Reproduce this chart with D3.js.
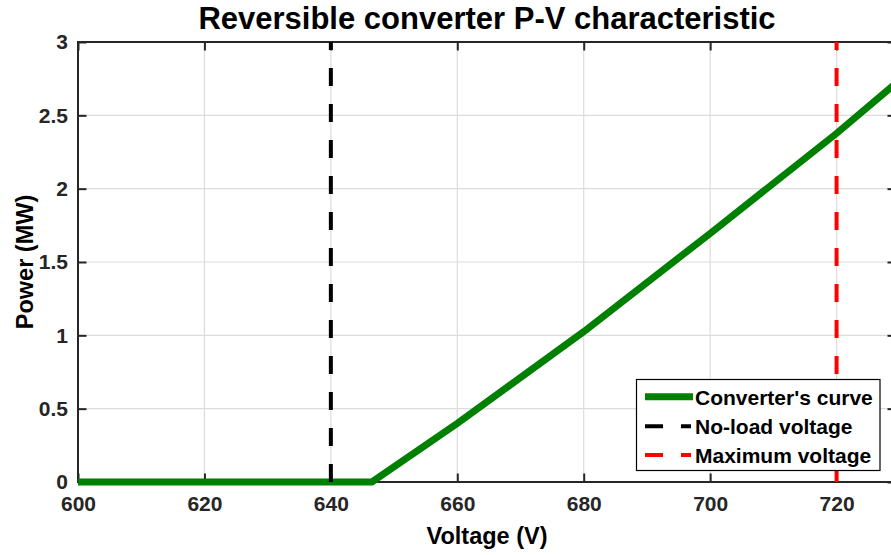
<!DOCTYPE html>
<html>
<head>
<meta charset="utf-8">
<script src="https://cdn.jsdelivr.net/npm/d3@7"></script>
<style>
  html, body { margin: 0; padding: 0; background: #fff; }
  svg { display: block; font-family: "Liberation Sans", Arial, Helvetica, sans-serif; font-weight: bold; }
</style>
</head>
<body>
<svg id="chart" width="891" height="555"></svg>
<script>
// Converter P-V curve: voltage (V) and power (MW)
const voltage = [600, 646.5, 660, 680, 700, 720, 729.4];
const power   = [0,   0,     0.40, 1.025, 1.695, 2.377, 2.72];

// Reference voltages
const noLoadVoltage = 640;
const maxVoltage = 720;

const xTicks = [600, 620, 640, 660, 680, 700, 720];
const yTicks = [0, 0.5, 1, 1.5, 2, 2.5, 3];

const legendLabels = ["Converter's curve", "No-load voltage", "Maximum voltage"];
const legendColors = ["#008000", "#000000", "#ff0000"];

const svg = d3.select("#chart");
const plotL = 78, plotR = 896, plotT = 42, plotB = 482;
const axisColor = "#262626";

const x = d3.scaleLinear().domain([600, 729.4]).range([plotL, plotR]);
const y = d3.scaleLinear().domain([0, 3]).range([plotB, plotT]);

// grid
const grid = svg.append("g").attr("stroke", "#dcdcdc").attr("stroke-width", 1.2);
grid.selectAll(".vg").data(xTicks.slice(1)).join("line")
  .attr("x1", d => x(d)).attr("x2", d => x(d)).attr("y1", plotT).attr("y2", plotB);
grid.selectAll(".hg").data(yTicks.slice(1, -1)).join("line")
  .attr("x1", plotL).attr("x2", plotR).attr("y1", d => y(d)).attr("y2", d => y(d));

// axes box with inward ticks on all four sides
const tickLen = 8.5;
const bottomAxis = d3.axisBottom(x).tickValues(xTicks).tickSize(-tickLen).tickPadding(14).tickFormat(d3.format("d"));
const topAxis = d3.axisTop(x).tickValues(xTicks).tickSize(-tickLen).tickFormat("");
const leftAxis = d3.axisLeft(y).tickValues(yTicks).tickSize(-tickLen).tickPadding(10).tickFormat(d => d3.format("~g")(d));
const rightAxis = d3.axisRight(y).tickValues(yTicks).tickSize(-tickLen).tickFormat("");

function styleAxis(g) {
  g.select(".domain").remove();
  g.selectAll("line").attr("stroke", axisColor).attr("stroke-width", 2);
  g.selectAll("text").attr("fill", axisColor).attr("font-size", 21).attr("font-weight", "bold")
    .attr("font-family", "'Liberation Sans', Arial, sans-serif");
}

svg.append("g").attr("transform", `translate(0,${plotB})`).call(bottomAxis).call(styleAxis);
svg.append("g").attr("transform", `translate(0,${plotT})`).call(topAxis).call(styleAxis);
svg.append("g").attr("transform", `translate(${plotL},0)`).call(leftAxis).call(styleAxis);
svg.append("g").attr("transform", `translate(${plotR},0)`).call(rightAxis).call(styleAxis);

svg.append("rect").attr("x", plotL).attr("y", plotT).attr("width", plotR - plotL).attr("height", plotB - plotT)
  .attr("fill", "none").attr("stroke", axisColor).attr("stroke-width", 2);

// plot area clip
svg.append("clipPath").attr("id", "plotClip").append("rect")
  .attr("x", plotL).attr("y", plotT - 5).attr("width", plotR - plotL).attr("height", plotB - plotT + 10);

const plot = svg.append("g").attr("clip-path", "url(#plotClip)");

// curve
const line = d3.line().x((d, i) => x(voltage[i])).y(d => y(d));
plot.append("path").datum(power).attr("d", line)
  .attr("fill", "none").attr("stroke", "#008000").attr("stroke-width", 7)
  .attr("stroke-linejoin", "miter");

// reference voltage markers
[[noLoadVoltage, "#000000"], [maxVoltage, "#ff0000"]].forEach(([v, c]) => {
  plot.append("line")
    .attr("x1", x(v)).attr("x2", x(v)).attr("y1", y(0)).attr("y2", y(3))
    .attr("stroke", c).attr("stroke-width", 4).attr("stroke-dasharray", "18,18");
});

// title and axis labels
svg.append("text").attr("x", (plotL + plotR) / 2).attr("y", 29).attr("text-anchor", "middle")
  .attr("font-size", 31).attr("fill", "#000").text("Reversible converter P-V characteristic");
svg.append("text").attr("x", (plotL + plotR) / 2).attr("y", 544).attr("text-anchor", "middle")
  .attr("font-size", 23.5).attr("fill", "#000").text("Voltage (V)");
svg.append("text").attr("transform", `translate(33,${(plotT + plotB) / 2}) rotate(-90)`).attr("text-anchor", "middle")
  .attr("font-size", 23.5).attr("fill", "#000").text("Power (MW)");

// legend
const lg = svg.append("g");
lg.append("rect").attr("x", 636.5).attr("y", 379.5).attr("width", 243.5).attr("height", 91)
  .attr("fill", "#fff").attr("stroke", "#000").attr("stroke-width", 1.2);
const rowY = [396.7, 426.2, 455];
legendLabels.forEach((lab, i) => {
  lg.append("line").attr("x1", 645).attr("x2", i === 0 ? 693 : 691)
    .attr("y1", rowY[i]).attr("y2", rowY[i])
    .attr("stroke", legendColors[i]).attr("stroke-width", i === 0 ? 7 : 4)
    .attr("stroke-dasharray", i === 0 ? null : "18,18");
  lg.append("text").attr("x", 695).attr("y", rowY[i] + 8).attr("font-size", 21).attr("fill", "#000").text(lab);
});
</script>
</body>
</html>
